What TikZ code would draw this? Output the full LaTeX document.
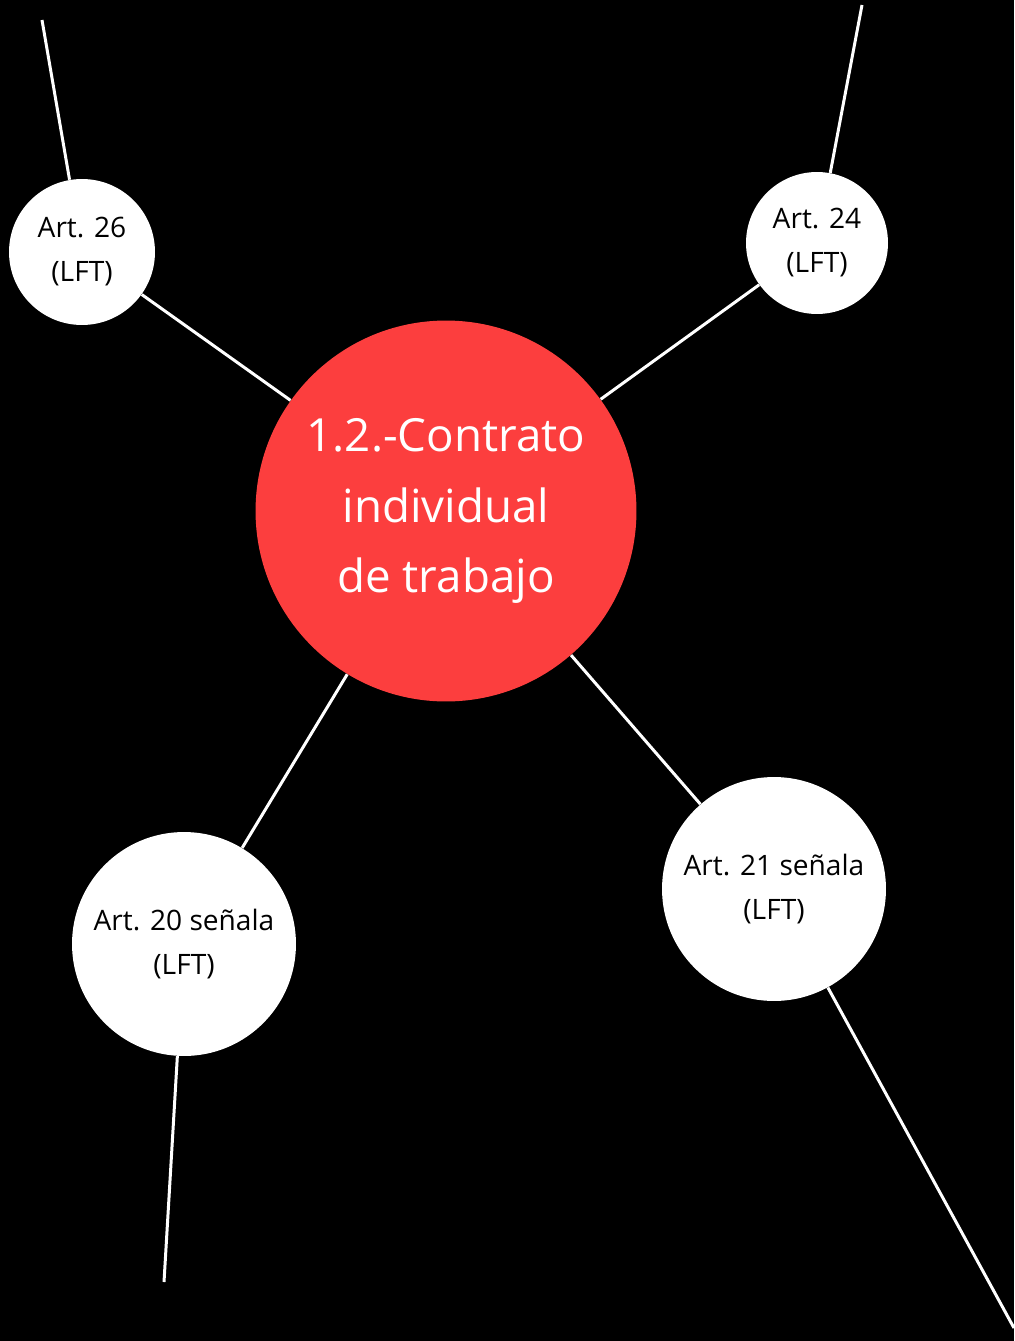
\documentclass[tikz,border=0pt]{standalone}
\usepackage{fontspec}
\setmainfont{Open Sans}
\definecolor{rojo}{RGB}{252,62,62}
\tikzset{
	art/.style={circle,fill=white,text=black,align=center,inner sep=0pt,font=\fontsize{16}{25}\selectfont},
	centro/.style={circle,fill=rojo,text=white,align=center,inner sep=0pt,minimum size=7.62cm,font=\fontsize{26}{40}\selectfont},
	rama/.style={draw=white,line width=1.7pt}
}
\begin{document}
\begin{tikzpicture}[x=0.02cm,y=-0.02cm]
		\fill [black] (0,0) rectangle (1014,1341);
		\useasboundingbox (0,0) rectangle (1014,1341);
		% tema central
		\node [centro] (ct) at (446,511) {1.2.-Contrato\\individual\\de trabajo};
		% articulos
		\node [art,minimum size=2.92cm] (a26) at (82,252) {Art. 26\\(LFT)};
		\node [art,minimum size=2.84cm] (a24) at (817,243) {Art. 24\\(LFT)};
		\node [art,minimum size=4.48cm] (a20) at (184,944) {Art. 20 señala\\(LFT)};
		\node [art,minimum size=4.48cm] (a21) at (774,889) {Art. 21 señala\\(LFT)};
		\coordinate (e26) at (42,20);
		\coordinate (e24) at (862,5);
		\coordinate (e20) at (164,1282);
		\coordinate (e21) at (1014,1328);
		\draw [rama] (ct) -- (a26);
		\draw [rama] (ct) -- (a24);
		\draw [rama] (ct) -- (a20);
		\draw [rama] (ct) -- (a21);
		\draw [rama] (a26) -- (e26);
		\draw [rama] (a24) -- (e24);
		\draw [rama] (a20) -- (e20);
		\draw [rama] (a21) -- (e21);
	\end{tikzpicture}
\end{document}
